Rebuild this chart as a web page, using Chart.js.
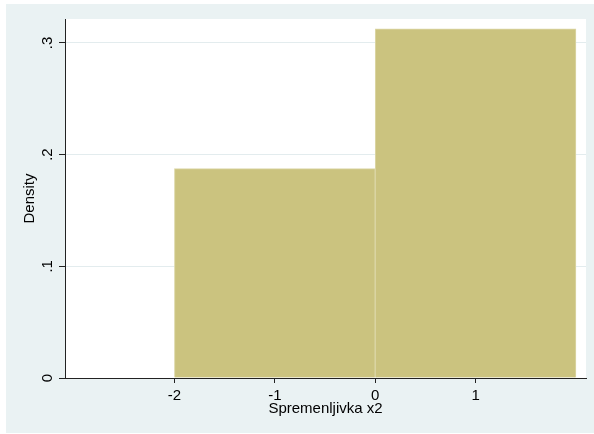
<!DOCTYPE html>
<html>
<head>
<meta charset="utf-8">
<title>Spremenljivka x2 – histogram</title>
<script src="https://cdn.jsdelivr.net/npm/chart.js@4/dist/chart.umd.min.js"></script>
<style>
  html, body { margin: 0; padding: 0; background: #ffffff; }
  #wrap { position: absolute; left: 6px; top: 4px; width: 588px; height: 429px; }
  #hist { display: block; background: #eaf2f3; }
</style>
</head>
<body>
<div id="wrap"><canvas id="hist" width="588" height="429"></canvas></div>
<script>
// Histogram bins (edges) and their densities
const binEdges = [-2, 0, 2];
const densities = [0.1875, 0.3125];

// Axis ticks
const xTicks = [-2, -1, 0, 1];
const xTickLabels = ['-2', '-1', '0', '1'];
const yTicks = [0, 0.1, 0.2, 0.3];
const yTickLabels = ['0', '.1', '.2', '.3'];

const xLabel = 'Spremenljivka x2';
const yLabel = 'Density';

// One bar per bin, centred between its edges
const bars = densities.map((d, i) => ({ x: (binEdges[i] + binEdges[i + 1]) / 2, y: d }));

const FONT = "'Liberation Sans', Arial, Helvetica, sans-serif";
Chart.defaults.font.family = FONT;
Chart.defaults.font.size = 15;
Chart.defaults.color = '#000000';

const plotBackground = {
  id: 'plotBackground',
  beforeDraw(chart) {
    const { ctx, chartArea: a } = chart;
    ctx.save();
    ctx.fillStyle = '#ffffff';
    ctx.fillRect(a.left, a.top, a.right - a.left, a.bottom - a.top);
    ctx.restore();
  }
};

new Chart(document.getElementById('hist'), {
  type: 'bar',
  data: {
    datasets: [{
      data: bars,
      backgroundColor: '#cbc37f',
      borderColor: '#dcd7a8',
      borderWidth: 1,
      borderSkipped: 'start',
      barThickness: 'flex',
      barPercentage: 1,
      categoryPercentage: 1
    }]
  },
  options: {
    responsive: false,
    devicePixelRatio: 1,
    animation: false,
    layout: { padding: { left: 0, top: 15, right: 8, bottom: 0 } },
    plugins: { legend: { display: false }, tooltip: { enabled: false } },
    scales: {
      x: {
        type: 'linear',
        offset: false,
        min: -3.09,
        max: 2.1,
        afterBuildTicks: s => { s.ticks = xTicks.map(v => ({ value: v })); },
        afterFit: s => { s.height = 55; },
        ticks: {
          padding: 4,
          callback: (v, i) => xTickLabels[i]
        },
        grid: { offset: false, drawOnChartArea: false, drawTicks: true, tickLength: 5, tickColor: '#222222' },
        border: { color: '#222222', width: 1 },
        title: { display: true, text: xLabel, padding: { top: 0, bottom: 15 } }
      },
      y: {
        type: 'linear',
        min: 0,
        max: 0.3214,
        afterBuildTicks: s => { s.ticks = yTicks.map(v => ({ value: v })); },
        afterFit: s => { s.width = 59; },
        ticks: {
          padding: 5,
          minRotation: 90,
          maxRotation: 90,
          crossAlign: 'center',
          callback: (v, i) => yTickLabels[i]
        },
        grid: { color: '#e3ecee', lineWidth: 1, drawTicks: true, tickLength: 6, tickColor: '#222222' },
        border: { color: '#222222', width: 1 },
        title: { display: true, text: yLabel, padding: { top: 15, bottom: 0 } }
      }
    }
  },
  plugins: [plotBackground]
});
</script>
</body>
</html>
